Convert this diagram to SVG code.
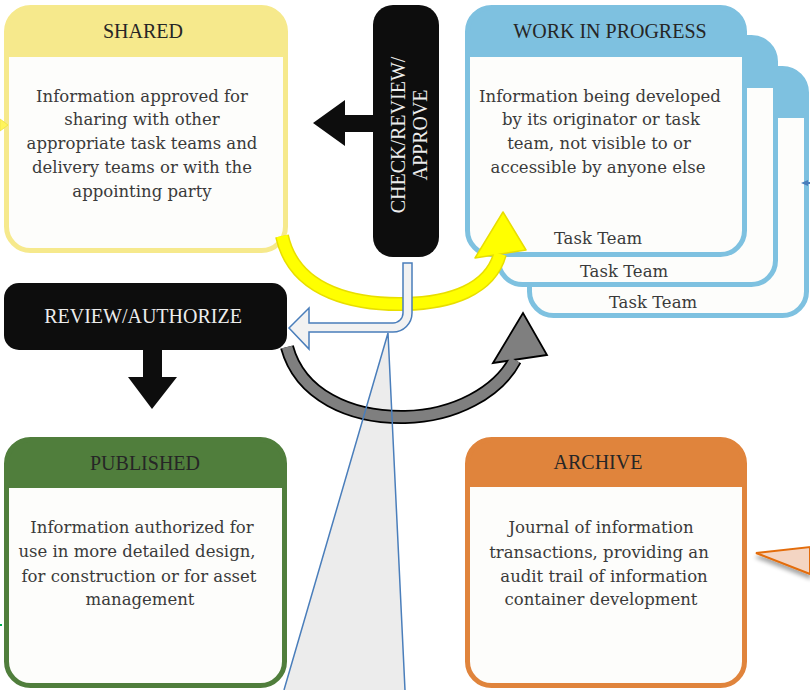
<svg xmlns="http://www.w3.org/2000/svg" width="810" height="690" viewBox="0 0 810 690">
<style>
.t{font-family:"Liberation Serif","Times New Roman",serif;font-size:20px;fill:#262626;text-anchor:middle}
.tw{font-family:"Liberation Serif","Times New Roman",serif;font-size:20px;fill:#ececec;text-anchor:middle}
.b{font-family:"DejaVu Serif","Liberation Serif",serif;font-size:16.5px;fill:#3a3a3a;text-anchor:middle}
.body{fill:#FDFDFB}
.ol{fill:none;stroke-width:5}
.ys{stroke:#F6E98C}.yf{fill:#F6E98C}
.bs{stroke:#7EC1E0}.bf{fill:#7EC1E0}
.gs{stroke:#507E3C}.gf{fill:#507E3C}
.os{stroke:#E0843C}.of{fill:#E0843C}
.blk{fill:#0D0D0D}
.cl{fill:none;stroke:#4A7EBB;stroke-width:1.5}
</style>
<defs>
<filter id="sh" x="-20%" y="-20%" width="140%" height="160%">
<feGaussianBlur in="SourceAlpha" stdDeviation="2"/>
<feOffset dx="0" dy="4" result="o"/>
<feComponentTransfer><feFuncA type="linear" slope="0.35"/></feComponentTransfer>
<feMerge><feMergeNode/><feMergeNode in="SourceGraphic"/></feMerge>
</filter>
</defs>
<rect width="810" height="690" fill="#FFFFFF"/>

<!-- callout fill behind -->
<polygon points="388,333 284,690 405,690" fill="#ECECEC"/>

<g id="shared">
<rect class="body" x="6.5" y="7.5" width="279" height="243" rx="24"/>
<path class="yf" d="M6.5 57 V31.5 A24 24 0 0 1 30.5 7.5 H261.5 A24 24 0 0 1 285.5 31.5 V57 Z"/>
<rect class="ol ys" x="6.5" y="7.5" width="279" height="243" rx="24"/>
<text class="t" x="143" y="38">SHARED</text>
<text class="b" x="142" y="102">Information approved for</text>
<text class="b" x="142" y="125">sharing with other</text>
<text class="b" x="142" y="149">appropriate task teams and</text>
<text class="b" x="142" y="173">delivery teams or with the</text>
<text class="b" x="142" y="197">appointing party</text>
</g>

<g id="check">
<rect class="blk" x="373" y="5" width="66" height="252" rx="20"/>
<text class="tw" transform="translate(405,135) rotate(-90)">CHECK/REVIEW/</text>
<text class="tw" transform="translate(427,135) rotate(-90)">APPROVE</text>
</g>

<g id="wip">
<rect class="body" x="529.5" y="68.5" width="277" height="247" rx="24"/>
<path class="bf" d="M529.5 118 V92.5 A24 24 0 0 1 553.5 68.5 H782.5 A24 24 0 0 1 806.5 92.5 V118 Z"/>
<rect class="ol bs" x="529.5" y="68.5" width="277" height="247" rx="24"/>
<rect class="body" x="498.5" y="37.5" width="277" height="247" rx="24"/>
<path class="bf" d="M498.5 88 V61.5 A24 24 0 0 1 522.5 37.5 H751.5 A24 24 0 0 1 775.5 61.5 V88 Z"/>
<rect class="ol bs" x="498.5" y="37.5" width="277" height="247" rx="24"/>
<rect class="body" x="467.5" y="7.5" width="277" height="247" rx="24"/>
<path class="bf" d="M467.5 57 V31.5 A24 24 0 0 1 491.5 7.5 H720.5 A24 24 0 0 1 744.5 31.5 V57 Z"/>
<rect class="ol bs" x="467.5" y="7.5" width="277" height="247" rx="24"/>
<text class="t" x="610" y="38">WORK IN PROGRESS</text>
<text class="b" x="600" y="102">Information being developed</text>
<text class="b" x="601" y="125">by its originator or task</text>
<text class="b" x="599" y="149">team, not visible to or</text>
<text class="b" x="598" y="173">accessible by anyone else</text>
<text class="b" x="598" y="244">Task Team</text>
<text class="b" x="624" y="277">Task Team</text>
<text class="b" x="653" y="308">Task Team</text>
</g>

<g id="review">
<rect class="blk" x="4" y="283" width="283" height="67" rx="15"/>
<text class="tw" x="143" y="323">REVIEW/AUTHORIZE</text>
</g>

<g id="published">
<rect class="body" x="6.5" y="439.5" width="278" height="246" rx="24"/>
<path class="gf" d="M6.5 488 V463.5 A24 24 0 0 1 30.5 439.5 H260.5 A24 24 0 0 1 284.5 463.5 V488 Z"/>
<rect class="ol gs" x="6.5" y="439.5" width="278" height="246" rx="24"/>
<text class="t" x="145" y="470">PUBLISHED</text>
<text class="b" x="142" y="533">Information authorized for</text>
<text class="b" x="137" y="557">use in more detailed design,</text>
<text class="b" x="139" y="582">for construction or for asset</text>
<text class="b" x="140" y="605">management</text>
</g>

<g id="archive">
<rect class="body" x="467.5" y="439.5" width="277" height="246" rx="24"/>
<path class="of" d="M467.5 487 V463.5 A24 24 0 0 1 491.5 439.5 H720.5 A24 24 0 0 1 744.5 463.5 V487 Z"/>
<rect class="ol os" x="467.5" y="439.5" width="277" height="246" rx="24"/>
<text class="t" x="598" y="469">ARCHIVE</text>
<text class="b" x="601" y="533">Journal of information</text>
<text class="b" x="599" y="558">transactions, providing an</text>
<text class="b" x="604" y="582">audit trail of information</text>
<text class="b" x="601" y="605">container development</text>
</g>

<g id="connectors">
<!-- check -> shared -->
<polygon class="blk" points="373,115 345,115 345,100 313,123 345,146 345,132 373,132"/>
<!-- review -> published -->
<polygon class="blk" points="143,350 162,350 162,377 177,377 152,409 128,377 143,377"/>
<!-- yellow: shared -> wip -->
<path d="M282 236 C295 295 360 305 405 304 C450 303 490 290 500 254" fill="none" stroke="#E8DE00" stroke-width="14"/>
<polygon points="475,258 503,212 526,250" fill="#FFFF00" stroke="#E8DE00" stroke-width="1.5" stroke-linejoin="round"/>
<path d="M282 236 C295 295 360 305 405 304 C450 303 490 290 500 254" fill="none" stroke="#FFFF00" stroke-width="11"/>
<!-- gray: review -> wip -->
<path d="M287 347 C300 395 350 418 405 417 C455 416 498 392 515 360" fill="none" stroke="#000" stroke-width="14"/>
<polygon points="493,363 523,313 547,355" fill="#7F7F7F" stroke="#000" stroke-width="1.8" stroke-linejoin="miter"/>
<path d="M287 347 C300 395 350 418 405 417 C455 416 498 392 515 360" fill="none" stroke="#7F7F7F" stroke-width="10.5"/>
<!-- hollow blue: check -> review -->
<path d="M403 263 H412 V313 A19 19 0 0 1 393 332 H309 V349 L289 328 L309 308 V323 H393 A10 10 0 0 0 403 313 Z" fill="#F2F2F2" stroke="#4A7EBB" stroke-width="1.5" stroke-linejoin="miter"/>
<!-- callout lines -->
<polyline class="cl" points="284,690 388,333 405,690"/>
<!-- orange callout from off-canvas -->
<polygon points="756,553 810,547 810,574" fill="#F4D5C3" stroke="#E36C09" stroke-width="2" filter="url(#sh)"/>
<!-- edge fragments -->
<polygon points="0,119 8,125 0,131" fill="#FFF45C" stroke="#F2E64A" stroke-width="1"/>
<line x1="810" y1="183" x2="805" y2="183" stroke="#4A7EBB" stroke-width="2"/>
<polygon points="801,183 808,180 808,186" fill="#4A7EBB"/>
<rect x="0" y="624" width="2" height="2" fill="#00B050"/>
</g>
</svg>
